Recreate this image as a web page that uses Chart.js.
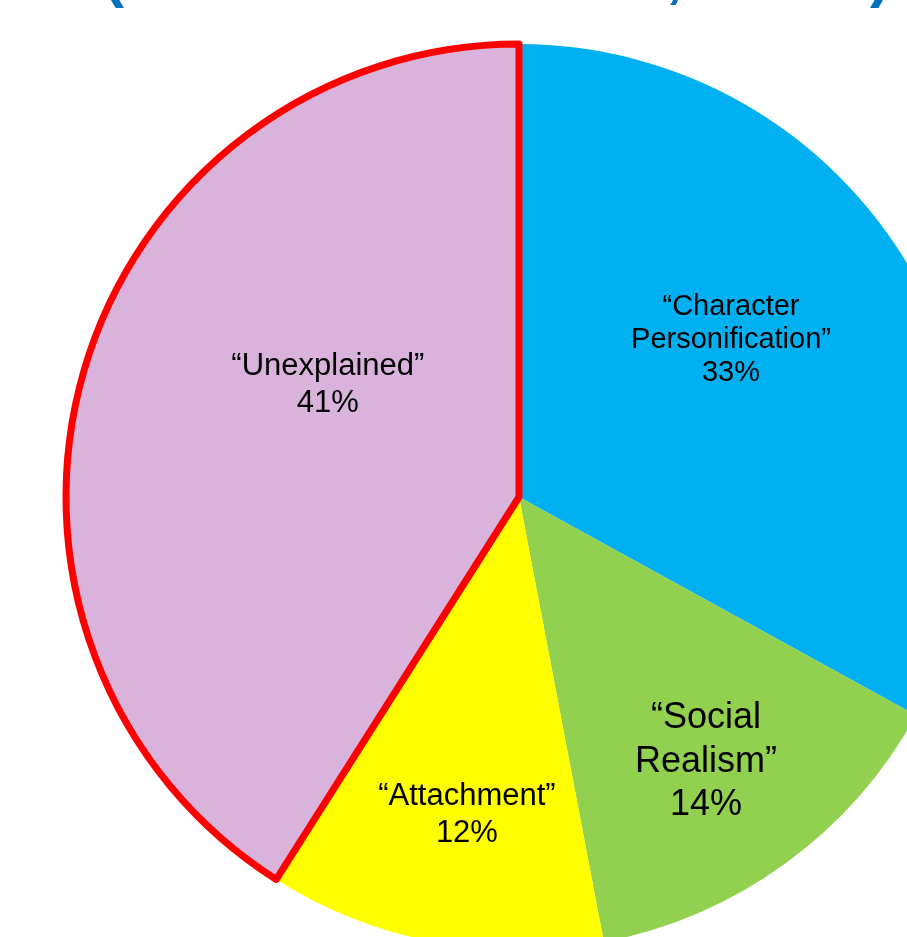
<!DOCTYPE html>
<html>
<head>
<meta charset="utf-8">
<script src="https://cdn.jsdelivr.net/npm/chart.js@4/dist/chart.umd.min.js"></script>
<style>
  html, body { margin: 0; padding: 0; background: #ffffff; overflow: hidden; width: 907px; height: 937px; }
  #pie { position: absolute; left: 0; top: 0; }
</style>
</head>
<body>
<canvas id="pie" width="1000" height="1000"></canvas>
<script>
// Categories and shares (percent), clockwise from 12 o'clock
const categories = ['Character Personification', 'Social Realism', 'Attachment', 'Unexplained'];
const shares = [33, 14, 12, 41];
const sliceColors = ['#00B0F0', '#92D050', '#FFFF00', '#D9B3DB'];
const highlightBorder = [0, 0, 0, 7];

// Label placement relative to pie centre, as fractions of the radius
// [x of text centre, first baseline y, font px, line height px]
const labelLayout = [
  [0.468, -0.402, 29, 33],
  [0.413, 0.510, 36, 43.5],
  [-0.115, 0.680, 31, 36.7],
  [-0.422, -0.269, 31, 36.7]
];

function labelLines(name, value) {
  const words = name.split(' ');
  const lines = words.slice();
  lines[0] = '\u201C' + lines[0];
  lines[lines.length - 1] = lines[lines.length - 1] + '\u201D';
  lines.push(value + '%');
  return lines;
}

const sliceLabels = {
  id: 'sliceLabels',
  afterDatasetsDraw(chart) {
    const arc = chart.getDatasetMeta(0).data[0];
    const cx = arc.x, cy = arc.y, r = arc.outerRadius;
    const ctx = chart.ctx;
    ctx.save();
    ctx.fillStyle = '#000000';
    ctx.textAlign = 'center';
    ctx.textBaseline = 'alphabetic';
    chart.data.labels.forEach((name, i) => {
      const [fx, fy, size, lh] = labelLayout[i];
      ctx.font = size + 'px "Liberation Sans", Arial, sans-serif';
      const lines = labelLines(name, chart.data.datasets[0].data[i]);
      lines.forEach((t, k) => ctx.fillText(t, cx + fx * r, cy + fy * r + k * lh));
    });
    ctx.restore();
  }
};

// Heading row above the pie, only its lower edge shows
const heading = {
  id: 'heading',
  afterDraw(chart) {
    const ctx = chart.ctx;
    ctx.save();
    ctx.fillStyle = '#0070C0';
    ctx.font = 'bold 60px "Liberation Sans", Arial, sans-serif';
    ctx.textAlign = 'left';
    ctx.textBaseline = 'alphabetic';
    ctx.fillText('(', 104, -4);
    ctx.fillText(',', 666, -4);
    ctx.fillText(')', 870, -4);
    ctx.restore();
  }
};

new Chart(document.getElementById('pie'), {
  type: 'pie',
  data: {
    labels: categories,
    datasets: [{
      data: shares,
      backgroundColor: sliceColors,
      borderColor: '#FF0000',
      borderWidth: highlightBorder,
      hoverBorderWidth: highlightBorder,
      borderJoinStyle: 'round',
      borderAlign: 'center',
      hoverOffset: 0
    }]
  },
  options: {
    responsive: false,
    animation: false,
    events: [],
    layout: { padding: { left: 62.5, right: 24.5, top: 40.5, bottom: 46.5 } },
    plugins: { legend: { display: false }, tooltip: { enabled: false }, title: { display: false } }
  },
  plugins: [sliceLabels, heading]
});
</script>
</body>
</html>
